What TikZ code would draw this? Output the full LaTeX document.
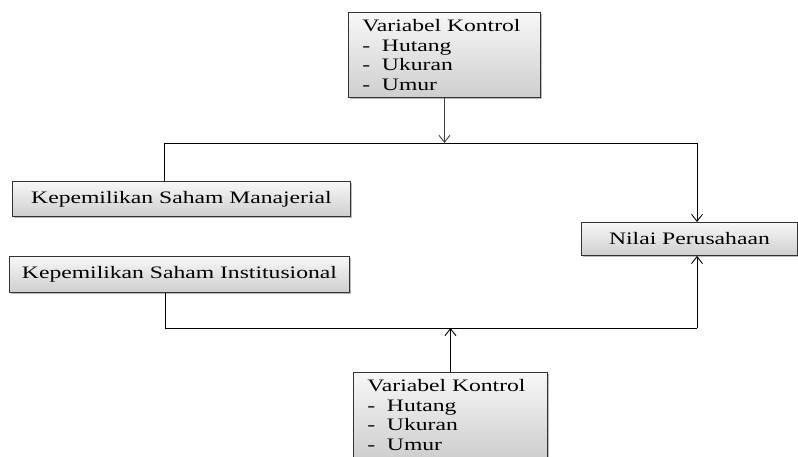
\documentclass[tikz,border=0pt]{standalone}
\usepackage{fontspec}
\setmainfont[FakeStretch=1.35]{Liberation Serif}
\usetikzlibrary{arrows.meta,shadows,calc}
\begin{document}
\begin{tikzpicture}[x=1pt,y=-1pt,
  box/.style={draw=black!80, line width=0.9pt, top color=gray!6, bottom color=gray!38,
    drop shadow={shadow xshift=2pt, shadow yshift=-2pt, fill=black!45, opacity=.6},
    inner sep=0pt, font=\fontsize{17.5}{19.5}\selectfont},
  listbox/.style={box, align=left, text width=164pt, inner xsep=14pt, minimum height=85pt, anchor=north west},
  wire/.style={draw=black, line width=0.9pt},
  arr/.style={wire, -{Straight Barb[length=7pt,width=11pt,line width=0.9pt]}}]
\useasboundingbox (0,0) rectangle (798,456);
\clip (0,0) rectangle (798,456);
\node[listbox] (vk1) at (348,12) {Variabel Kontrol\\- \ Hutang\\- \ Ukuran\\- \ Umur};
\node[box, minimum width=338pt, minimum height=35pt, anchor=north west] (man) at (12,181) {Kepemilikan Saham Manajerial};
\node[box, minimum width=340pt, minimum height=36pt, anchor=north west] (inst) at (9,256) {Kepemilikan Saham Institusional};
\node[box, minimum width=216pt, minimum height=33pt, anchor=north west] (nilai) at (581,222) {Nilai Perusahaan};
\node[listbox, text width=166pt] (vk2) at (353,372) {Variabel Kontrol\\- \ Hutang\\- \ Ukuran\\- \ Umur};
\coordinate (t1) at (164,143);
\coordinate (t2) at (697,143);
\coordinate (b1) at (165,328);
\coordinate (b2) at (697,328);
\draw[arr, draw=black!75, line width=1.2pt] (vk1.south) -- (vk1.south |- t1);
\draw[wire] (t1 |- man.north) -- (t1) -- (t2);
\draw[arr] (t2) -- (t2 |- nilai.north);
\draw[wire] (b1 |- inst.south) -- (b1) -- (b2);
\draw[arr] (b2) -- (b2 |- nilai.south);
\draw[arr, line width=1.2pt] (vk2.north) -- (vk2.north |- b1);
\end{tikzpicture}
\end{document}
